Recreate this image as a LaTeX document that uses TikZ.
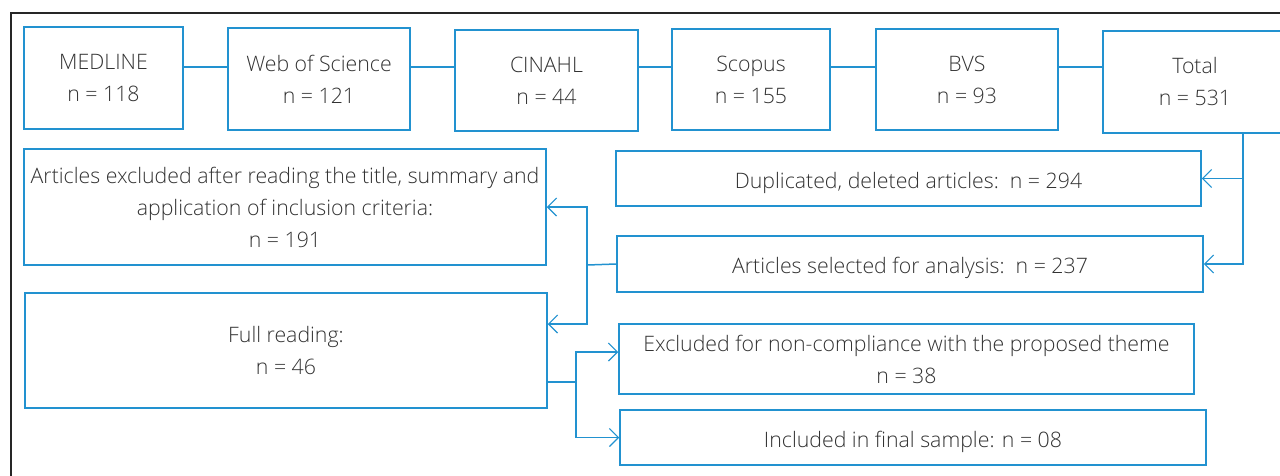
\documentclass[tikz,border=0pt]{standalone}
\usepackage{fontspec}
\setmainfont{Open Sans}[UprightFont={* Light}]
\usetikzlibrary{arrows.meta,calc}
\definecolor{bl}{RGB}{34,146,208}
\definecolor{txt}{RGB}{50,50,50}
\tikzset{
  box/.style={draw=bl, line width=1.5pt, inner sep=0pt, align=center, text=txt,
    font=\fontsize{21.3}{32}\selectfont, execute at begin node={\rule{0pt}{20pt}}},
  boxone/.style={box, execute at begin node={\rule{0pt}{25pt}}},
  conn/.style={draw=bl, line width=1.5pt},
  arr/.style={conn, -{Straight Barb[length=9pt,width=18pt,line width=1.2pt]}},
}
\begin{document}
\begin{tikzpicture}[x=1pt,y=-1pt]
\useasboundingbox (0,0) rectangle (1280,475);
\clip (0,0) rectangle (1280,475);
\draw[line width=1.6pt, black!85] (11,480) -- (11,13) -- (1290,13);
% top row
\node[box, minimum width=159, minimum height=102] (med) at (103.5,78) {MEDLINE\\n = 118};
\node[box, minimum width=182, minimum height=102] (wos) at (319,79) {Web of Science\\n = 121};
\node[box, minimum width=183, minimum height=101] (cin) at (546.5,80.5) {CINAHL\\n = 44};
\node[box, minimum width=158, minimum height=101] (sco) at (751,79.5) {Scopus\\n = 155};
\node[box, minimum width=182, minimum height=101] (bvs) at (967,79.5) {BVS\\n = 93};
\node[box, minimum width=184, minimum height=102] (tot) at (1195,82) {Total\\n = 531};
% right column
\node[boxone, minimum width=585, minimum height=55] (dup) at (908.5,178.5) {Duplicated, deleted articles:\ \ n = 294};
\node[boxone, minimum width=586, minimum height=56] (sel) at (910,264) {Articles selected for analysis:\ \ n = 237};
\node[box, minimum width=575, minimum height=70] (nc) at (906.5,359) {Excluded for non-compliance with the proposed theme\\n = 38};
\node[boxone, minimum width=586, minimum height=55] (inc) at (913,437.5) {Included in final sample: n = 08};
% left column
\node[box, minimum width=522, minimum height=116] (exc) at (285,207) {Articles excluded after reading the title, summary and\\application of inclusion criteria:\\n = 191};
\node[box, minimum width=522, minimum height=115] (full) at (286,350.5) {Full reading:\\n = 46};
% helper coordinates
\coordinate (r1) at (0,67);
\coordinate (tj) at (1243,265);
\coordinate (vj) at (587,265);
\coordinate (a2) at (0,324);
\coordinate (vj2) at (576,382);
\coordinate (a3) at (0,352);
% connectors top row
\draw[conn] (med.east |- r1) -- (wos.west |- r1);
\draw[conn] (wos.east |- r1) -- (cin.west |- r1);
\draw[conn] (cin.east |- r1) -- (sco.west |- r1);
\draw[conn] (sco.east |- r1) -- (bvs.west |- r1);
\draw[conn] (bvs.east |- r1) -- (tot.west |- r1);
% total to right boxes
\draw[arr] (tot.south -| tj) |- (dup.east);
\draw[arr] (tot.south -| tj) |- (sel.east);
% selected to left boxes
\draw[conn] (sel.west) -- (vj);
\draw[arr] (vj) |- (exc.east);
\draw[arr] (vj) |- (full.east |- a2);
% full reading to right
\draw[conn] (full.east |- vj2) -- (vj2);
\draw[arr] (vj2) |- (nc.west |- a3);
\draw[arr] (vj2) |- (inc.west);
\end{tikzpicture}
\end{document}
